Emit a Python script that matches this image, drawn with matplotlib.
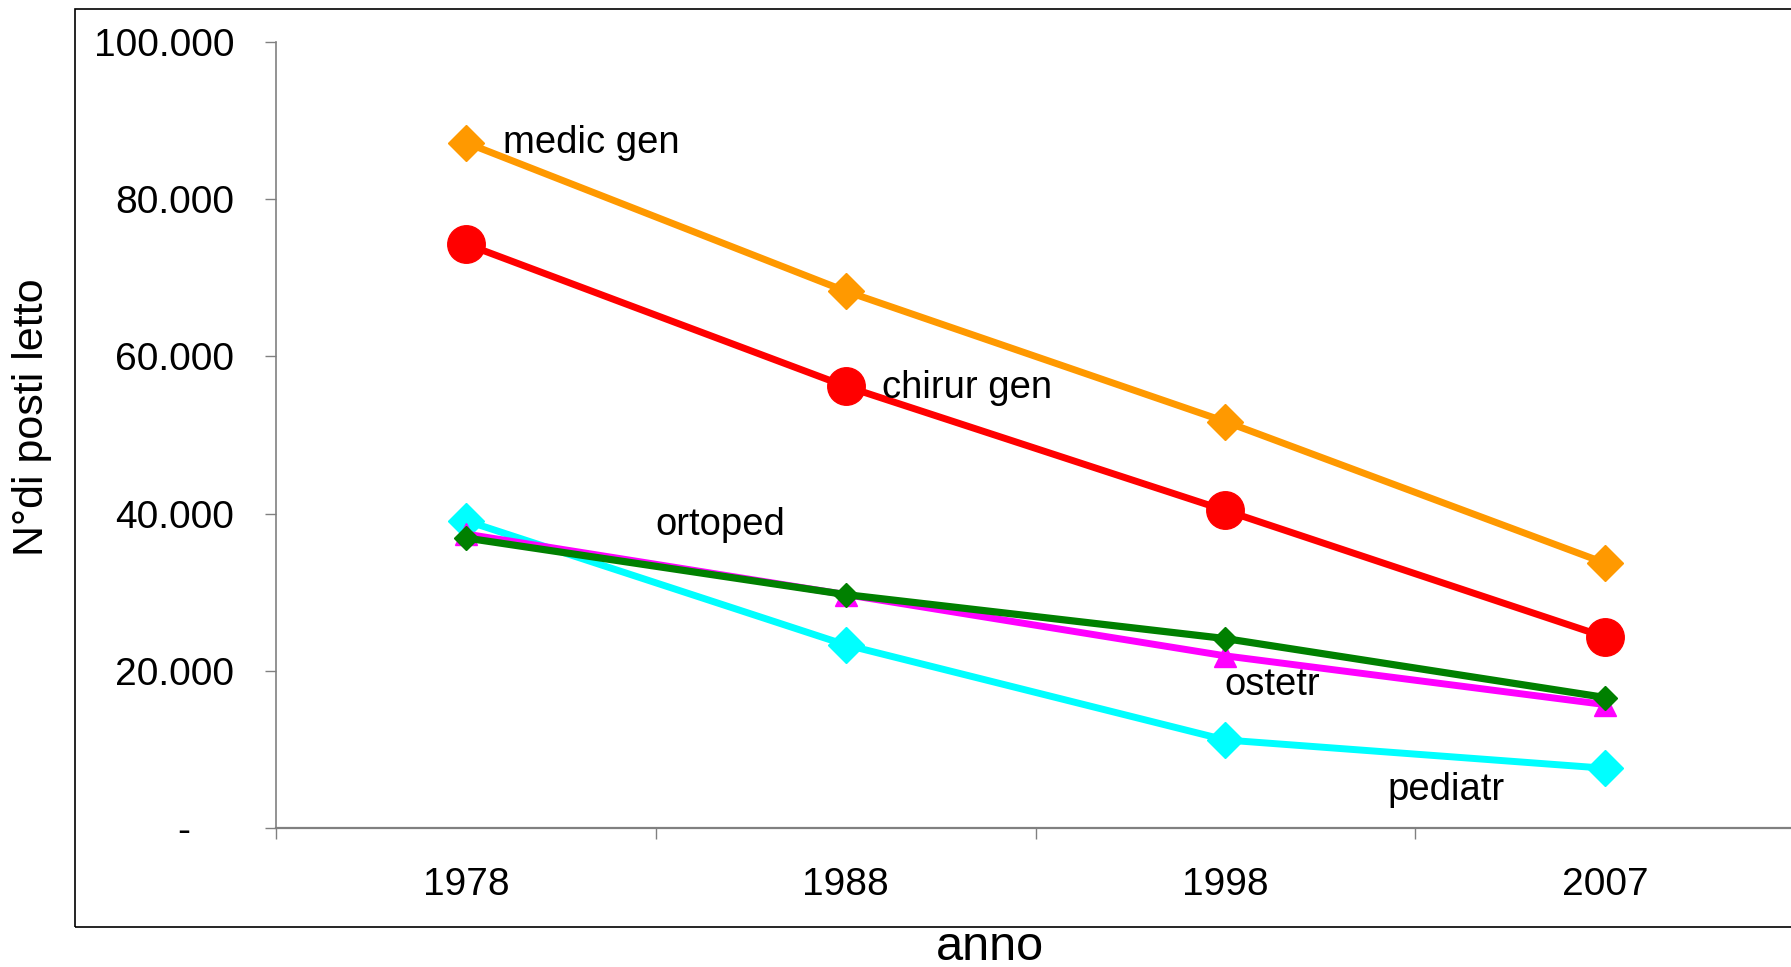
# -*- coding: utf-8 -*-
import numpy as np
import matplotlib.pyplot as plt
from matplotlib.patches import Rectangle
from matplotlib.transforms import ScaledTranslation

plt.rcParams['font.family'] = ['Liberation Sans', 'DejaVu Sans']

# dati: posti letto per disciplina
anni = ['1978', '1988', '1998', '2007']
medic_gen = [87200, 68300, 51700, 33700]
chirur_gen = [74300, 56200, 40400, 24300]
pediatr = [39100, 23300, 11200, 7600]
ostetr = [37400, 29700, 21900, 15700]
ortoped = [36900, 29700, 24100, 16600]

y_ticks = [0, 20000, 40000, 60000, 80000, 100000]
y_labels = ['-', '20.000', '40.000', '60.000', '80.000', '100.000']

fig = plt.figure(figsize=(17.91, 9.67), dpi=100)
ax = fig.add_axes([276 / 1791, 139 / 967, 1519 / 1791, 786 / 967])
x = np.arange(len(anni))

ax.plot(x, pediatr, color='#00FFFF', lw=5, marker='D', ms=18.5, zorder=3)
ax.plot(x, ostetr, color='#FF00FF', lw=5, marker='^', ms=16, zorder=4)
ax.plot(x, ortoped, color='#008000', lw=5.2, marker='D', ms=12, zorder=5)
ax.plot(x, chirur_gen, color='#FF0000', lw=5, marker='o', ms=27, zorder=3)
ax.plot(x, medic_gen, color='#FF9900', lw=5, marker='D', ms=18.5, zorder=3)

# etichette delle serie
ax.text(0.098, 87100, 'medic gen', fontsize=27.5, va='center')
ax.text(1.096, 56000, 'chirur gen', fontsize=27.5, va='center')
ax.text(0.5, 38600, 'ortoped', fontsize=27.5, va='center')
ax.text(1.997, 18200, 'ostetr', fontsize=27.5, va='center')
ax.text(2.426, 4800, 'pediatr', fontsize=27.5, va='center')

ax.set_xlim(-0.5, 3.5)
ax.set_ylim(0, 100000)

# assi stile excel
for s in ['top', 'right']:
    ax.spines[s].set_visible(False)
ax.spines['left'].set_color('#808080')
ax.spines['bottom'].set_color('#808080')
ax.spines['left'].set_linewidth(1.2)
ax.spines['bottom'].set_linewidth(1.6)

ax.set_yticks(y_ticks)
ax.set_yticklabels(y_labels, fontsize=28)
ax.tick_params(axis='y', length=8, width=1, color='#808080', pad=22)
# il trattino dello zero sta piu' a sinistra
lab0 = ax.get_yticklabels()[0]
lab0.set_transform(lab0.get_transform() + ScaledTranslation(-0.44, 0, fig.dpi_scale_trans))

ax.set_xticks(np.arange(-0.5, 3.0, 1.0))
ax.set_xticklabels([])
ax.set_xticks(x, minor=True)
ax.set_xticklabels(anni, minor=True, fontsize=28)
ax.tick_params(axis='x', which='major', length=8, width=1, color='#808080')
ax.tick_params(axis='x', which='minor', length=0, pad=28)

fig.text(990 / 1791, 1 - 948 / 967, 'anno', fontsize=35, ha='center', va='center')
fig.text(32 / 1791, 1 - 417 / 967, 'N°di posti letto', fontsize=31,
         rotation=90, ha='center', va='center')

# cornice dell'area grafico
fig.patches.append(Rectangle((75 / 1791, 1 - 927 / 967), 1.2, 918 / 967,
                             transform=fig.transFigure, fill=False,
                             edgecolor='black', lw=1.2, clip_on=False))

fig.savefig('out.png', dpi=100)
